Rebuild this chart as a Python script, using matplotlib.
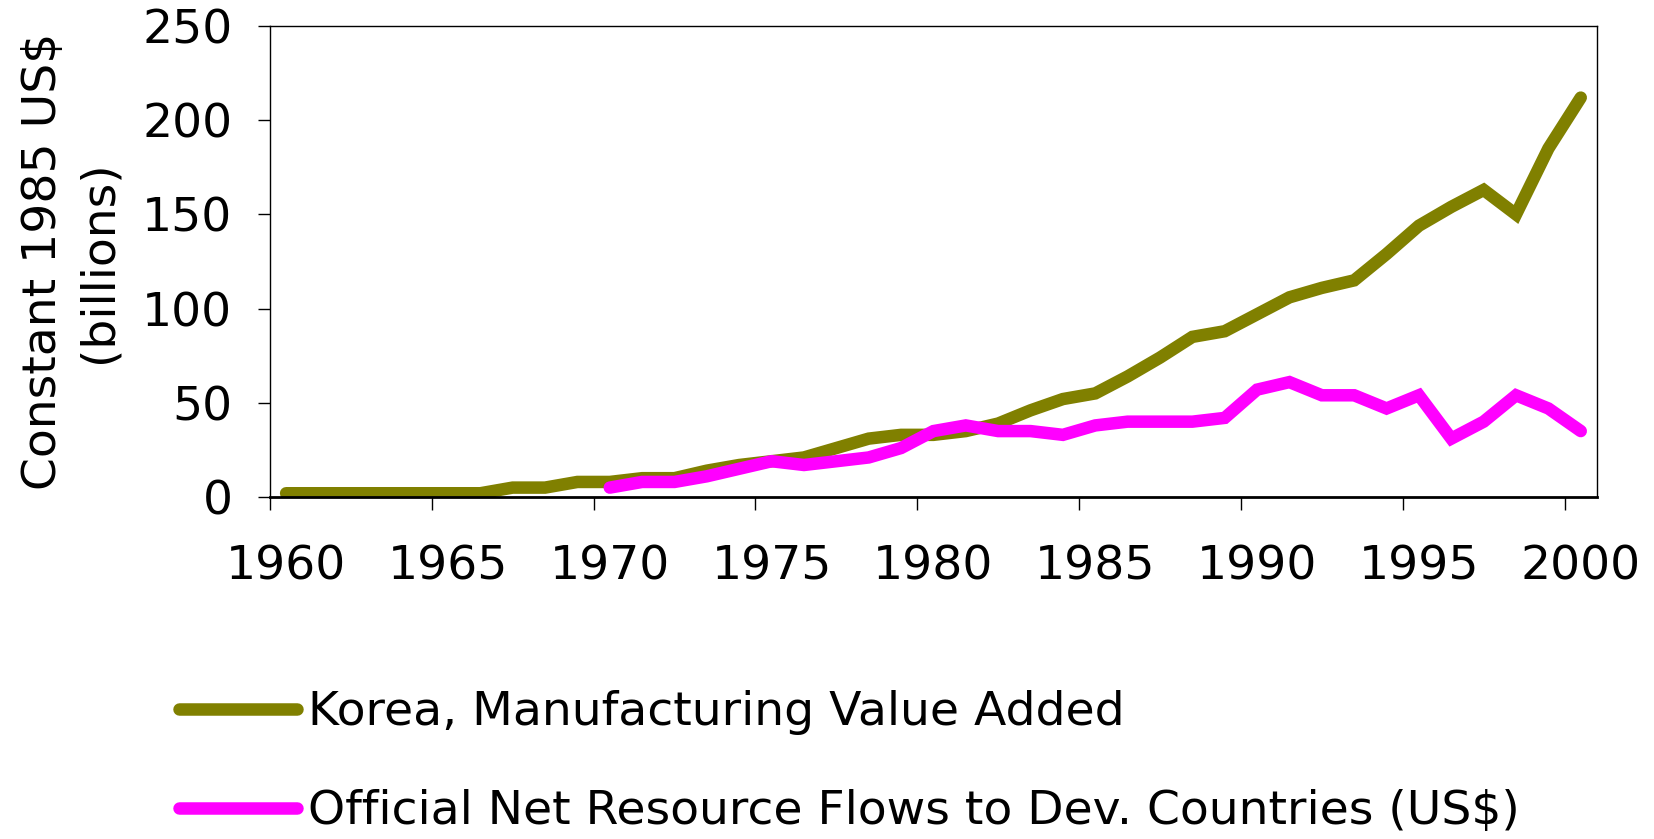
import matplotlib
matplotlib.use("Agg")
import matplotlib.pyplot as plt

# Korea, manufacturing value added (1960-2000)
years_kor = list(range(1960, 2001))
kor_mva = [2, 2, 2, 2, 2, 2, 2, 5, 5, 8, 8, 10, 10, 14, 17, 19, 21, 26, 31, 33,
           33, 35, 39, 46, 52, 55, 64, 74, 85, 88, 97, 106, 111, 115, 129, 144,
           154, 163, 150, 185, 212]

# official net resource flows (1970-2000)
years_flow = list(range(1970, 2001))
net_flows = [5, 8, 8, 11, 15, 19, 17, 19, 21, 26, 35, 38, 35, 35, 33, 38, 40,
             40, 40, 42, 57, 61, 54, 54, 47, 54, 31, 40, 54, 47, 35]

label_kor = "Korea, Manufacturing Value Added"
label_flow = "Official Net Resource Flows to Dev. Countries (US$)"
year_labels = list(range(1960, 2001, 5))

plt.rcParams['font.family'] = ['DejaVu Sans']
fs = 34

fig = plt.figure(figsize=(16.54, 8.39), dpi=100)
ax = fig.add_axes([0.1632, 0.4076, 0.8023, 0.5614])

l1, = ax.plot(years_kor, kor_mva, color="#808000", lw=9, solid_capstyle="round",
              solid_joinstyle="miter")
l2, = ax.plot(years_flow, net_flows, color="#FF00FF", lw=9, solid_capstyle="round",
              solid_joinstyle="miter")

ax.set_xlim(1959.5, 2000.5)
ax.set_ylim(0, 250)
ax.set_yticks(range(0, 251, 50))
# tick marks sit between categories, labels on the categories
ax.set_xticks([y - 0.5 for y in year_labels])
ax.set_xticklabels([])
ax.set_xticks(year_labels, minor=True)
ax.set_xticklabels([str(y) for y in year_labels], minor=True)
ax.tick_params(axis="x", which="major", length=9, width=1, direction="out")
ax.tick_params(axis="x", which="minor", length=0, pad=34, labelsize=fs)
ax.tick_params(axis="y", length=9, width=1, direction="out", pad=18, labelsize=fs)

for s in ax.spines.values():
    s.set_linewidth(1)
ax.spines["bottom"].set_linewidth(2)

ax.set_ylabel("Constant 1985 US$\n(billions)", fontsize=fs, linespacing=1.3)
ax.yaxis.set_label_coords(-0.112, 0.5)

fig.legend([l1, l2], [label_kor, label_flow], loc="upper left",
           bbox_to_anchor=(0.097, 0.2), frameon=False, fontsize=fs,
           handlelength=2.5, handletextpad=0.22, labelspacing=1.15,
           borderaxespad=0)

fig.savefig("out.png", dpi=100)
